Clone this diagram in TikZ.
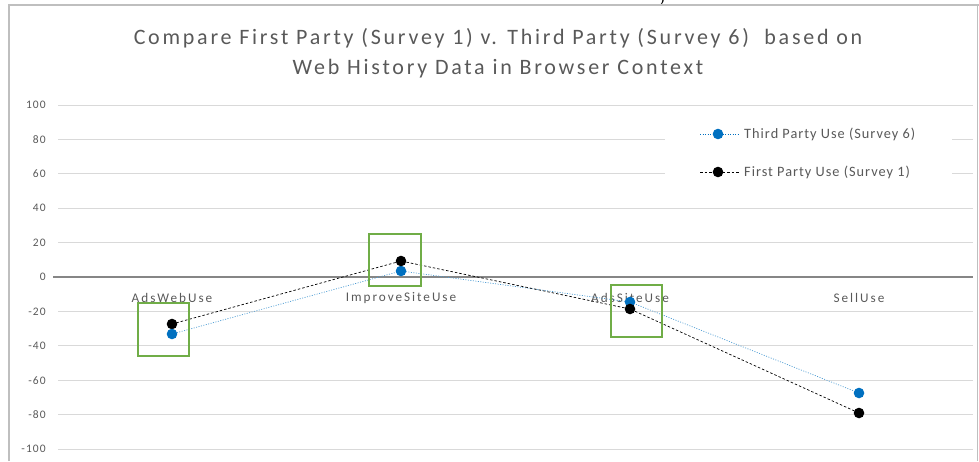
\documentclass[tikz,border=0pt]{standalone}
\usepackage{fontspec}
\setmainfont{Carlito}
\newfontfamily\titlefont[LetterSpace=12.5]{Carlito}
\newfontfamily\catfont[LetterSpace=15]{Carlito}
\newfontfamily\numfont[LetterSpace=10]{Carlito}
\newfontfamily\legfont[LetterSpace=7]{Carlito}
\newfontfamily\docfont{Liberation Serif}
\usepackage{xcolor}
\usepackage{tikz}
\usetikzlibrary{positioning}

\definecolor{txtgray}{HTML}{595959}
\definecolor{gridgray}{HTML}{D9D9D9}
\definecolor{axisgray}{HTML}{868686}
\definecolor{framegray}{HTML}{BFBFBF}
\definecolor{thirdblue}{HTML}{0070C0}
\definecolor{boxgreen}{HTML}{70AD47}

\begin{document}
\begin{tikzpicture}[x=1pt, y=-1pt,
    gridln/.style={gridgray, line width=1pt},
    ylab/.style={anchor=east, txtgray, font=\numfont\fontsize{11.5}{13}\selectfont, inner sep=0pt},
    catlab/.style={txtgray, font=\catfont\fontsize{13.2}{15}\selectfont, inner sep=0pt},
    tline/.style={thirdblue!70, line width=0.7pt, dash pattern=on 1pt off 1.5pt},
    fline/.style={black, line width=0.7pt, dash pattern=on 2.5pt off 2pt},
    hibox/.style={boxgreen, line width=1.3pt},
    legtxt/.style={anchor=west, txtgray, font=\legfont\fontsize{14.3}{16}\selectfont, inner sep=0pt}]
    \path[use as bounding box] (0,0) rectangle (979,461);

    % page frame and the cut-off text above it
    \node[font=\docfont\fontsize{16}{18}\selectfont, inner sep=0pt] (par) at (662,-1) {)};
    \draw[framegray, line width=1.2pt] (9,461) -- (9,5) -- (979,5);
    \draw[framegray, line width=0.8pt] (977,5) -- (977,461);

    % title
    \node[align=center, txtgray, font=\titlefont\fontsize{22}{30}\selectfont] (title) at (498,53)
        {Compare First Party (Survey 1) v. Third Party (Survey 6)\ \ based on\\Web History Data in Browser Context};

    % grid and value axis
    \foreach \v in {-100,-80,...,100} {
        \draw[gridln] (58,{277-\v*1.72}) -- (973,{277-\v*1.72});
        \node[ylab] at (46,{277-\v*1.72}) {\v};
    }
    \draw[axisgray, line width=1.3pt] (53,277) -- (973,277);

    % legend
    \fill[white] (665,113) rectangle (952,194);
    \coordinate (tla) at (700,134);
    \coordinate (tlb) at (740,134);
    \coordinate (fla) at (700,172);
    \coordinate (flb) at (740,172);
    \draw[tline, thirdblue] (tla) -- (tlb);
    \draw[fline] (fla) -- (flb);
    \fill[thirdblue] (718,134) circle (5.3);
    \fill[black] (718,172) circle (5.3);
    \node[legtxt, right=4pt of tlb] (tleg) {Third Party Use (Survey 6)};
    \node[legtxt, right=4pt of flb] (fleg) {First Party Use (Survey 1)};

    % categories
    \node[catlab] (c1) at (172,298) {AdsWebUse};
    \node[catlab] (c2) at (401,298) {ImproveSiteUse};
    \node[catlab] (c3) at (630,298) {AdsSiteUse};
    \node[catlab] (c4) at (859,298) {SellUse};

    % data points
    \coordinate (t1) at (172,334);
    \coordinate (t2) at (401,271);
    \coordinate (t3) at (630,302);
    \coordinate (t4) at (859,393);
    \coordinate (f1) at (172,324);
    \coordinate (f2) at (401,261);
    \coordinate (f3) at (630,309);
    \coordinate (f4) at (859,413);

    \draw[tline] (t1) -- (t2) -- (t3) -- (t4);
    \draw[fline] (f1) -- (f2) -- (f3) -- (f4);

    \fill[black] (f1) circle (5.3);
    \fill[thirdblue] (t1) circle (5.3);
    \fill[thirdblue] (t2) circle (5.3);
    \fill[black] (f2) circle (5.3);
    \fill[thirdblue] (t3) circle (5.3);
    \fill[black] (f3) circle (5.3);
    \fill[thirdblue] (t4) circle (5.3);
    \fill[black] (f4) circle (5.3);

    % highlight boxes
    \draw[hibox] (138,303) rectangle (189,356);
    \draw[hibox] (369,234) rectangle (421,286);
    \draw[hibox] (611,285) rectangle (662,337);
\end{tikzpicture}
\end{document}
